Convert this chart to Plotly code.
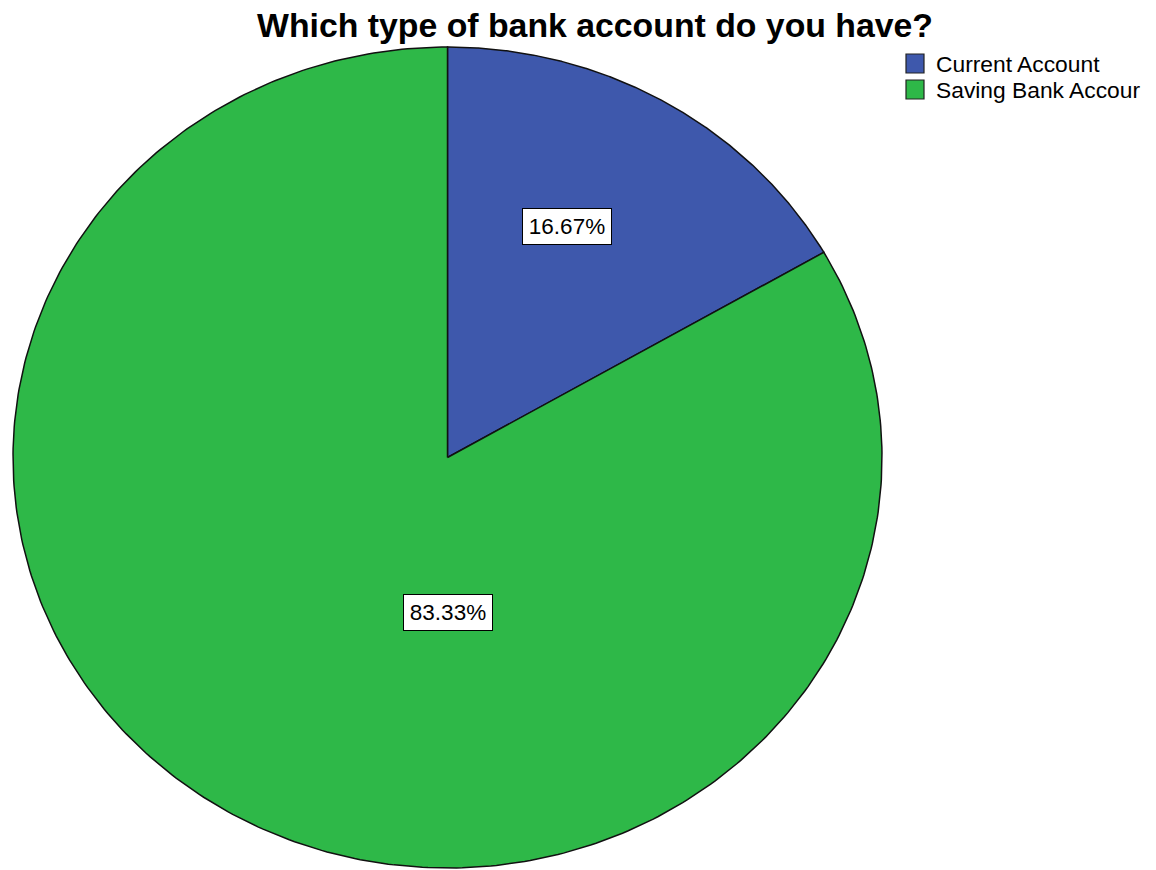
import numpy as np
import plotly.graph_objects as go

# Survey answers: "Which type of bank account do you have?"
labels = ["Current Account", "Saving Bank Account"]
legend_text = ["Current Account", "Saving Bank Accour"]
percent = [16.67, 83.33]
colors = ["#3E58AC", "#2EB848"]

W, H = 1156, 870
CX, CY = 447.5, 457.5       # pie centre (pixels)
RX, RY = 434.5, 410.5       # pie radii (slightly oval)
FONT = "Liberation Sans, Arial, sans-serif"

fig = go.Figure()

# Slices: clockwise from 12 o'clock, each angle from its share of the total
total = sum(percent)
start = 0.0
for lab, val, col in zip(labels, percent, colors):
    sweep = 2 * np.pi * val / total
    theta = np.linspace(start, start + sweep, 400)
    xs = np.concatenate([[CX], CX + RX * np.sin(theta), [CX]])
    ys = np.concatenate([[CY], CY - RY * np.cos(theta), [CY]])
    fig.add_trace(go.Scatter(
        x=xs, y=ys, mode="lines", fill="toself", fillcolor=col,
        line=dict(color="#111111", width=1.5), name=lab,
        showlegend=False, hoverinfo="name",
    ))
    start += sweep

# Value labels in white boxes
label_pos = [(566.5, 226.5), (447.5, 612.0)]
for val, (lx, ly) in zip(percent, label_pos):
    fig.add_annotation(
        x=lx, y=ly, xref="x", yref="y", text=f"{val:.2f}%", showarrow=False,
        font=dict(family=FONT, size=22.5, color="black"),
        bgcolor="white", bordercolor="black", borderwidth=1,
        width=86, height=33, xanchor="center", yanchor="middle",
    )

# Legend: coloured squares with labels
for i, (txt, col) in enumerate(zip(legend_text, colors)):
    top = 54 + 26 * i
    fig.add_shape(type="rect", xref="x", yref="y",
                  x0=906, x1=924, y0=top, y1=top + 19,
                  fillcolor=col, line=dict(color="#222222", width=1.2))
    fig.add_annotation(x=934, y=top + 9.5, xref="x", yref="y", text=txt,
                       showarrow=False, xanchor="left", yanchor="middle",
                       font=dict(family=FONT, size=22.8, color="black"))

# Title
fig.add_annotation(x=595, y=25, xref="x", yref="y",
                   text="<b>Which type of bank account do you have?</b>",
                   showarrow=False, xanchor="center", yanchor="middle",
                   font=dict(family=FONT, size=33.8, color="black"))

fig.update_xaxes(range=[0, W], visible=False, fixedrange=True)
fig.update_yaxes(range=[H, 0], visible=False, fixedrange=True)
fig.update_layout(
    width=W, height=H, margin=dict(l=0, r=0, t=0, b=0),
    paper_bgcolor="white", plot_bgcolor="white", showlegend=False,
)

fig.write_html("out.html")
